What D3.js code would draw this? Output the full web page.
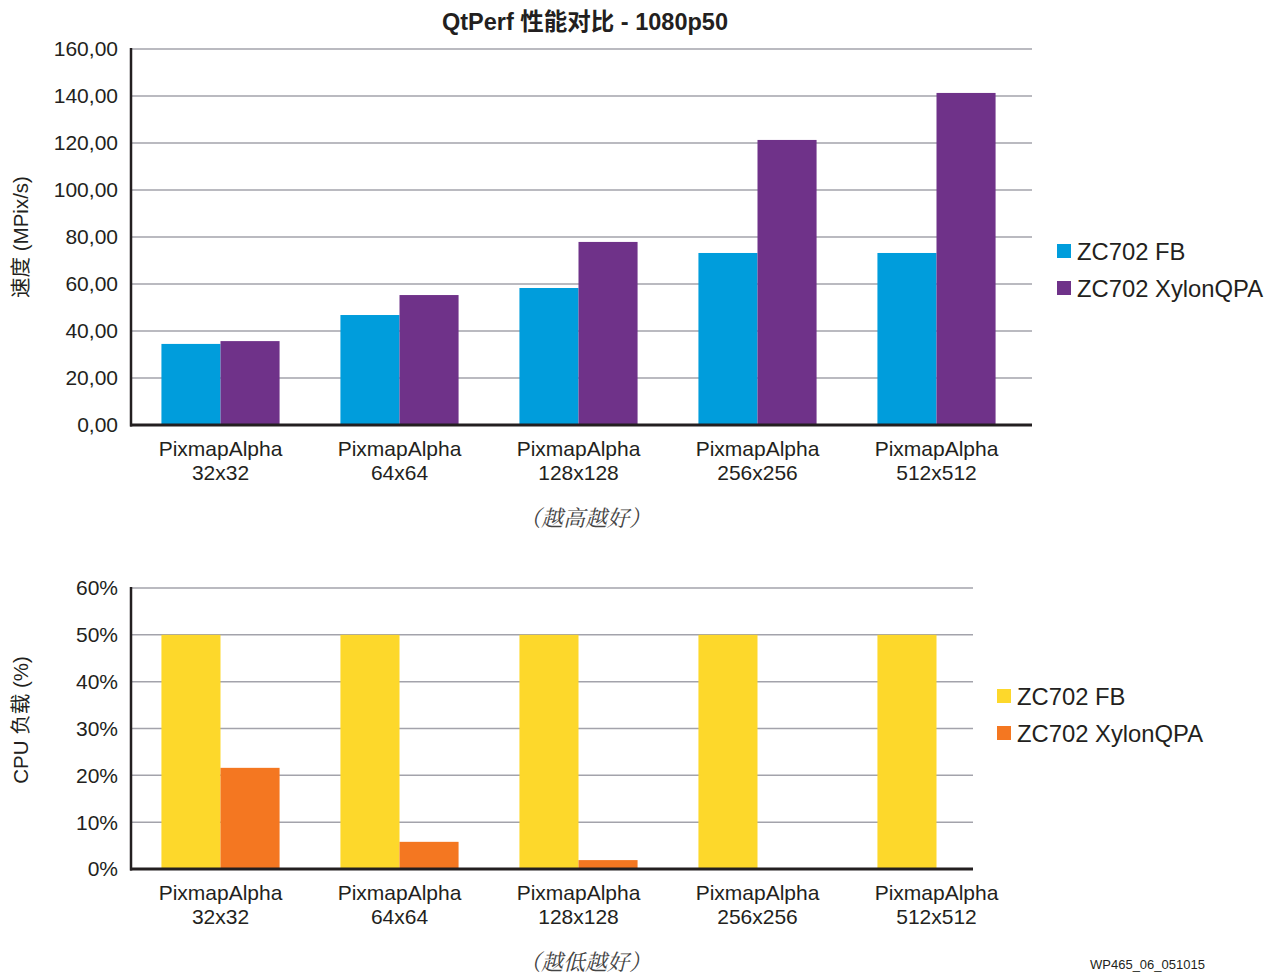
<!DOCTYPE html>
<html>
<head>
<meta charset="utf-8">
<script src="https://cdn.jsdelivr.net/npm/d3@7"></script>
<style>
  body { margin: 0; background: #fff; }
  text { font-family: "Liberation Sans", Arial, "Noto Sans CJK SC", sans-serif; fill: #231f20; }
</style>
</head>
<body>
<div id="chart"></div>
<script>
// data
const categories = ["PixmapAlpha\n32x32", "PixmapAlpha\n64x64", "PixmapAlpha\n128x128", "PixmapAlpha\n256x256", "PixmapAlpha\n512x512"];
const seriesNames = ["ZC702 FB", "ZC702 XylonQPA"];
const speedFB = [34.5, 46.8, 58.3, 73.2, 73.2];
const speedXylon = [35.7, 55.3, 77.9, 121.3, 141.3];
const cpuFB = [50, 50, 50, 50, 50];
const cpuXylon = [21.6, 5.8, 1.9, 0, 0];
const speedTicks = [0, 20, 40, 60, 80, 100, 120, 140, 160];
const cpuTicks = [0, 10, 20, 30, 40, 50, 60];

const width = 1279, height = 976;
const svg = d3.select("#chart").append("svg")
    .attr("width", width)
    .attr("height", height);

const commaFmt = d3.formatLocale({ decimal: ",", thousands: ".", grouping: [3], currency: ["", ""] }).format(".2f");

function drawPanel(opts) {
    const g = svg.append("g");

    const x0 = d3.scaleBand()
        .domain(categories)
        .range([131, 1026])
        .paddingInner(0.34)
        .paddingOuter(0.17);
    const x1 = d3.scaleBand()
        .domain(seriesNames)
        .range([0, x0.bandwidth()]);
    const y = d3.scaleLinear()
        .domain([0, opts.max])
        .range([opts.bottom, opts.top]);

    // gridlines
    g.selectAll("line.grid")
        .data(opts.ticks.slice(1))
        .enter()
        .append("line")
        .attr("class", "grid")
        .attr("x1", 131)
        .attr("x2", opts.right)
        .attr("y1", d => y(d))
        .attr("y2", d => y(d))
        .attr("stroke", "#a3a3ab")
        .attr("stroke-width", 1.5);

    // bars
    const rows = categories.map((c, i) => ({ cat: c, vals: [opts.a[i], opts.b[i]] }));
    g.selectAll("g.grp")
        .data(rows)
        .enter()
        .append("g")
        .attr("class", "grp")
        .attr("transform", d => `translate(${x0(d.cat)},0)`)
        .selectAll("rect")
        .data(d => d.vals.map((v, j) => ({ key: seriesNames[j], v: v })))
        .enter()
        .append("rect")
        .attr("x", d => x1(d.key))
        .attr("y", d => y(d.v))
        .attr("width", x1.bandwidth())
        .attr("height", d => y(0) - y(d.v))
        .attr("fill", (d, j) => opts.colors[j]);

    // axes
    g.append("line")
        .attr("x1", 131).attr("x2", 131)
        .attr("y1", opts.top - 1).attr("y2", opts.bottom + 1.5)
        .attr("stroke", "#231f20").attr("stroke-width", 2.5);
    g.append("line")
        .attr("x1", 130).attr("x2", opts.right)
        .attr("y1", opts.bottom).attr("y2", opts.bottom)
        .attr("stroke", "#231f20").attr("stroke-width", 3);

    // y tick labels
    g.selectAll("text.ytick")
        .data(opts.ticks)
        .enter()
        .append("text")
        .attr("class", "ytick")
        .attr("x", 118)
        .attr("y", d => y(d))
        .attr("dy", "0.35em")
        .attr("text-anchor", "end")
        .style("font-size", "21px")
        .text(opts.fmt);

    // x labels
    const xl = g.selectAll("text.xlab")
        .data(categories)
        .enter()
        .append("text")
        .attr("class", "xlab")
        .attr("x", d => x0(d) + x0.bandwidth() / 2)
        .attr("y", opts.bottom + 31)
        .attr("text-anchor", "middle")
        .style("font-size", "21px");
    xl.selectAll("tspan")
        .data(d => d.split("\n"))
        .enter()
        .append("tspan")
        .attr("x", function() { return d3.select(this.parentNode).attr("x"); })
        .attr("dy", (d, i) => i === 0 ? 0 : 24)
        .text(d => d);

    // y axis title
    g.append("text")
        .attr("transform", `translate(28,${opts.titleY}) rotate(-90)`)
        .attr("text-anchor", "middle")
        .style("font-size", "20.5px")
        .text(opts.yTitle);

    // note
    g.append("text")
        .attr("x", 585)
        .attr("y", opts.bottom + 101)
        .attr("text-anchor", "middle")
        .style("font-size", "22px")
        .style("font-style", "italic")
        .style("font-family", "'Noto Serif CJK SC', 'Noto Sans CJK SC', serif")
        .style("fill", "#444")
        .text(opts.note);

    // legend
    const legend = g.append("g")
        .attr("transform", `translate(${opts.legendX},${opts.legendY})`);
    seriesNames.forEach((s, i) => {
        const row = legend.append("g").attr("transform", `translate(0,${i * 37})`);
        row.append("rect").attr("width", 14).attr("height", 14).attr("y", -7).attr("fill", opts.colors[i]);
        row.append("text").attr("x", 20).attr("y", 0).attr("dy", "0.36em")
            .style("font-size", "23.8px").text(s);
    });
}

// title
svg.append("text")
    .attr("x", 585)
    .attr("y", 30)
    .attr("text-anchor", "middle")
    .style("font-size", "23.5px")
    .style("font-weight", "bold")
    .text("QtPerf 性能对比 - 1080p50");

drawPanel({
    a: speedFB, b: speedXylon, max: 160, ticks: speedTicks,
    top: 49, bottom: 425, right: 1032,
    colors: ["#009ddc", "#6f3289"],
    fmt: d => commaFmt(d),
    yTitle: "速度 (MPix/s)", titleY: 237,
    note: "（越高越好）",
    legendX: 1057, legendY: 251
});

drawPanel({
    a: cpuFB, b: cpuXylon, max: 60, ticks: cpuTicks,
    top: 588, bottom: 869, right: 973,
    colors: ["#fdd82b", "#f47721"],
    fmt: d => d + "%",
    yTitle: "CPU 负载 (%)", titleY: 720,
    note: "（越低越好）",
    legendX: 997, legendY: 696
});

svg.append("text")
    .attr("x", 1090)
    .attr("y", 969)
    .style("font-size", "13px")
    .text("WP465_06_051015");
</script>
</body>
</html>
